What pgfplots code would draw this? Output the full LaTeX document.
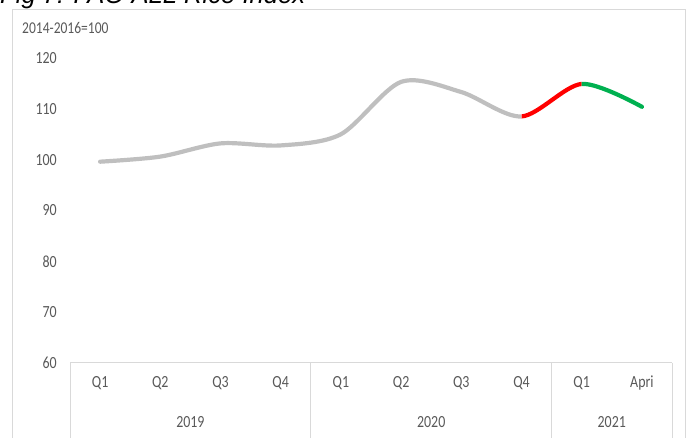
\documentclass[border=0pt]{standalone}
\usepackage{pgfplots}
\pgfplotsset{compat=1.18}
\usepackage{pgfplotstable}
\usepackage{fontspec}
\setmainfont{Carlito}
\newfontfamily\titlefont{Liberation Sans}
\definecolor{lgray}{HTML}{BFBFBF}
\definecolor{bordergray}{HTML}{D9D9D9}
\definecolor{txt}{HTML}{595959}
\definecolor{myred}{HTML}{FF0000}
\definecolor{mygreen}{HTML}{00B050}
\newcommand{\lab}[1]{\scalebox{0.82}[1]{#1}}
\pgfplotstableread{
x y
0 99.6
1 100.6
2 103.2
3 102.8
4 105.0
5 115.3
6 113.3
7 108.5
8 114.9
9 110.4
}\ricedata
\begin{document}
\begin{tikzpicture}[x=1pt,y=1pt]
\useasboundingbox (0,0) rectangle (691,438);
\clip (0,0) rectangle (691,438);
\node[anchor=base west, inner sep=0pt, font=\titlefont\itshape\fontsize{25.6}{28}\selectfont] at (0,434) {Fig 7: FAO ALL Rice Index};
\draw[bordergray, line width=1pt] (12,-5) -- (12,428) -- (685,428) -- (685,-5);
\node[anchor=west, inner sep=0pt, text=txt, font=\fontsize{16.5}{19}\selectfont] at (22,410) {\lab{2014-2016=100}};
\begin{axis}[
  at={(70pt,75pt)}, anchor=south west,
  scale only axis, width=602pt, height=305pt,
  xmin=-0.5, xmax=9.5, ymin=60, ymax=120,
  axis lines=left,
  x axis line style={-, draw=bordergray, line width=1pt},
  y axis line style={draw=none},
  major tick length=0pt,
  xtick={0,...,9},
  xticklabels={\lab{Q1},\lab{Q2},\lab{Q3},\lab{Q4},\lab{Q1},\lab{Q2},\lab{Q3},\lab{Q4},\lab{Q1},\lab{Apri}},
  xticklabel style={anchor=center, yshift=-20pt, text=txt, font=\fontsize{17}{20}\selectfont},
  ytick={60,70,...,120},
  /pgf/number format/assume math mode=true,
  yticklabel={\lab{\pgfmathprintnumber{\tick}}},
  yticklabel style={anchor=east, xshift=-13pt, inner sep=0pt, text=txt, font=\fontsize{17}{20}\selectfont},
  clip=false,
]
\draw[bordergray, line width=1pt] (axis cs:-0.5,60) -- ([yshift=-90pt]axis cs:-0.5,60);
\draw[bordergray, line width=1pt] (axis cs:3.5,60) -- ([yshift=-90pt]axis cs:3.5,60);
\draw[bordergray, line width=1pt] (axis cs:7.5,60) -- ([yshift=-90pt]axis cs:7.5,60);
\draw[bordergray, line width=1pt] (axis cs:9.5,60) -- ([yshift=-90pt]axis cs:9.5,60);
\node[text=txt, font=\fontsize{17}{20}\selectfont] at (axis cs:1.5,60) [yshift=-59pt] {\lab{2019}};
\node[text=txt, font=\fontsize{17}{20}\selectfont] at (axis cs:5.5,60) [yshift=-59pt] {\lab{2020}};
\node[text=txt, font=\fontsize{17}{20}\selectfont] at (axis cs:8.5,60) [yshift=-59pt] {\lab{2021}};
\end{axis}
% gray part: clipped to [-0.5,7]
\begin{axis}[
  at={(70pt,75pt)}, anchor=south west,
  scale only axis, width=451.5pt, height=305pt,
  xmin=-0.5, xmax=7, ymin=60, ymax=120, hide axis, clip=true,
]
\addplot[lgray, line width=4.2pt, smooth, line cap=round] table[x=x,y=y] {\ricedata};
\end{axis}
% red part: clipped to [7,8]
\begin{axis}[
  at={(521.5pt,75pt)}, anchor=south west,
  scale only axis, width=60.2pt, height=305pt,
  xmin=7, xmax=8, ymin=60, ymax=120, hide axis, clip=true,
]
\addplot[myred, line width=4.2pt, smooth] table[x=x,y=y] {\ricedata};
\end{axis}
% green part: clipped to [8,9.5]
\begin{axis}[
  at={(581.7pt,75pt)}, anchor=south west,
  scale only axis, width=90.3pt, height=305pt,
  xmin=8, xmax=9.5, ymin=60, ymax=120, hide axis, clip=true,
]
\addplot[mygreen, line width=4.2pt, smooth, line cap=round] table[x=x,y=y] {\ricedata};
\end{axis}
\end{tikzpicture}
\end{document}
